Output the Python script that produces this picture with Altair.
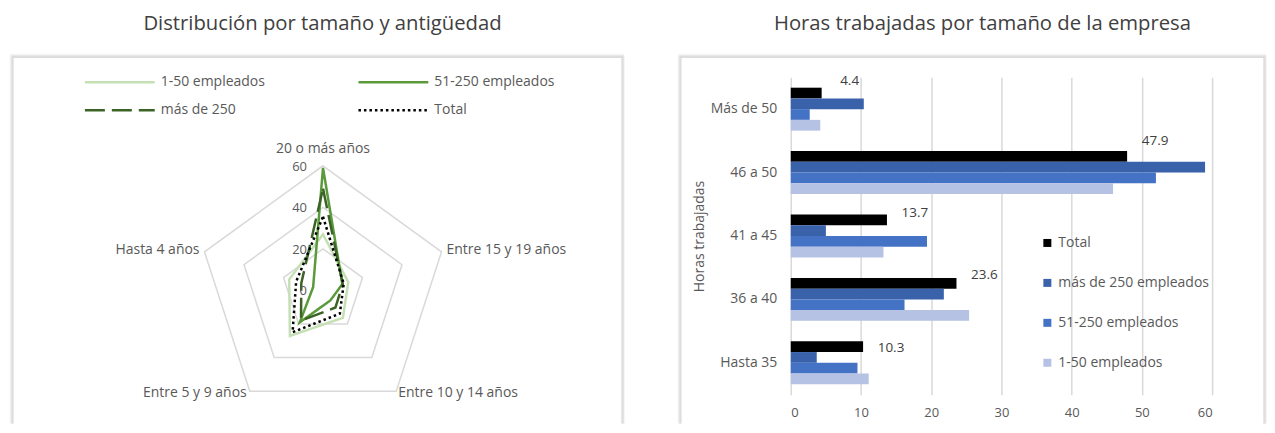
import altair as alt
import pandas as pd

# ---------------- data ----------------
antig_cats = ["20 o más años", "Entre 15 y 19 años", "Entre 10 y 14 años",
              "Entre 5 y 9 años", "Hasta 4 años"]
radar_series = ["1-50 empleados", "51-250 empleados", "más de 250", "Total"]
radar_1_50 = [27.0, 12.8, 16.3, 27.1, 17.1]
radar_51_250 = [59.0, 9.8, 6.0, 19.0, 5.0]
radar_mas_250 = [49.0, 10.0, 10.2, 18.0, 11.0]
radar_total = [35.5, 10.5, 13.8, 24.9, 13.6]
radar_ticks = [0, 20, 40, 60]

horas_cats = ["Más de 50", "46 a 50", "41 a 45", "36 a 40", "Hasta 35"]
bar_series = ["Total", "más de 250 empleados", "51-250 empleados", "1-50 empleados"]
bar_total = [4.4, 47.9, 13.7, 23.6, 10.3]
bar_mas_250 = [10.4, 59.0, 5.0, 21.8, 3.7]
bar_51_250 = [2.7, 52.0, 19.4, 16.2, 9.5]
bar_1_50 = [4.2, 45.9, 13.2, 25.4, 11.1]
bar_ticks = [0, 10, 20, 30, 40, 50, 60]

# ---------------- styles ----------------
FONT = "Open Sans"
TXT = "#595959"
radar_colors = ["#C5E0B4", "#5A9A3A", "#3B6326", "#000000"]
radar_dashes = [[1, 0], [1, 0], [20, 7], [2.5, 3]]
bar_colors = ["#000000", "#3A62AB", "#4472C4", "#B6C2E3"]

# legend is filled column by column: reorder so rows read as in the original
leg_order = [0, 2, 1, 3]
leg_domain = [radar_series[i] for i in leg_order]
leg_colors = [radar_colors[i] for i in leg_order]
leg_dashes = [radar_dashes[i] for i in leg_order]

# ---------------- frame helper (top + sides, soft shadow) ----------------
one = pd.DataFrame({"k": [0]})


def seg(xa, xb, ya, yb, color, op, w=1.0):
    return (alt.Chart(one).mark_rule(color=color, opacity=op, strokeWidth=w)
            .encode(x=alt.value(xa), x2=alt.value(xb), y=alt.value(ya), y2=alt.value(yb)))


def frame(x0, x1, y0, y1):
    layers = []
    for k, op in [(3, 0.04), (2, 0.08), (1, 0.15)]:
        layers.append(seg(x0 - k, x1 + min(k, 2), y0 - k, y0 - k, "#000000", op))
        layers.append(seg(x0 - k, x0 - k, y0 - k, y1, "#000000", op))
        if k <= 2:
            layers.append(seg(x1 + k, x1 + k, y0 - k, y1, "#000000", op))
    layers.append(seg(x0, x1, y0, y0, "#d0d0d0", 1))
    layers.append(seg(x0, x0, y0, y1, "#d0d0d0", 1))
    layers.append(seg(x1, x1, y0, y1, "#d0d0d0", 1))
    return layers


# ---------------- radar chart ----------------
PX = 2.08          # pixels per unit
L_W, L_H = 610, 347
CX, CY = 310.5, 213.5
xdom = [-CX / PX, (L_W - CX) / PX]
ydom = [-(L_H - CY) / PX, CY / PX]

rows = []
for s, vals in zip(radar_series, [radar_1_50, radar_51_250, radar_mas_250, radar_total]):
    for i, (c, v) in enumerate(zip(antig_cats, vals)):
        rows.append({"series": s, "cat": c, "idx": i, "value": v})
radar_df = pd.DataFrame(rows)
ring_df = pd.DataFrame([{"ring": r, "idx": i, "value": r}
                        for r in radar_ticks[1:] for i in range(len(antig_cats))])
tick_df = pd.DataFrame({"value": radar_ticks, "label": [str(t) for t in radar_ticks]})
cat_df = pd.DataFrame({"cat": antig_cats, "idx": list(range(len(antig_cats))),
                       "value": [radar_ticks[-1]] * len(antig_cats)})

polar = dict(px="datum.value*sin(datum.idx*2*PI/5)",
             py="datum.value*cos(datum.idx*2*PI/5)")


def xy():
    return dict(
        x=alt.X("px:Q", scale=alt.Scale(domain=xdom, nice=False, zero=False), axis=None),
        y=alt.Y("py:Q", scale=alt.Scale(domain=ydom, nice=False, zero=False), axis=None),
    )


rings = (alt.Chart(ring_df).transform_calculate(**polar)
         .mark_line(interpolate="linear-closed", color="#d9d9d9", strokeWidth=1.5)
         .encode(**xy(), detail="ring:N", order="idx:Q"))

# wide line symbol: custom path three times as long as the symbol size
radar_legend = alt.Legend(title=None, orient="none", legendX=94, legendY=-8,
                          columns=2, columnPadding=88, rowPadding=8,
                          symbolType="M-3,0H3", symbolSize=544, symbolStrokeWidth=2.5,
                          labelFont=FONT, labelFontSize=14, labelColor=TXT,
                          labelOffset=28, padding=0)

lines = (alt.Chart(radar_df).transform_calculate(**polar)
         .mark_line(interpolate="linear-closed", strokeWidth=2.5)
         .encode(**xy(),
                 color=alt.Color("series:N", sort=leg_domain,
                                 scale=alt.Scale(domain=leg_domain, range=leg_colors),
                                 legend=radar_legend),
                 strokeDash=alt.StrokeDash("series:N", sort=leg_domain,
                                           scale=alt.Scale(domain=leg_domain, range=leg_dashes),
                                           legend=radar_legend),
                 detail="series:N",
                 order="idx:Q"))

tick_text = (alt.Chart(tick_df).transform_calculate(px="0", py="datum.value")
             .mark_text(align="right", baseline="middle", dx=-16, dy=1, font=FONT,
                        fontSize=13, color=TXT)
             .encode(**xy(), text="label:N"))

cat_specs = [("center", 0, -17), ("left", 5, -2), ("left", 2, 2),
             ("right", -3, 2), ("right", -5, -2)]
cat_layers = []
for i, (al, ddx, ddy) in enumerate(cat_specs):
    cat_layers.append(
        alt.Chart(cat_df).transform_filter(f"datum.idx == {i}")
        .transform_calculate(**polar)
        .mark_text(align=al, baseline="middle", dx=ddx, dy=ddy, font=FONT,
                   fontSize=14, color=TXT)
        .encode(**xy(), text="cat:N"))

left = alt.layer(*frame(0, L_W, -20, L_H), rings, lines, tick_text, *cat_layers).properties(
    width=L_W, height=L_H,
    title=alt.Title("Distribución por tamaño y antigüedad", font=FONT, fontSize=20.3,
                    fontWeight="normal", color="#404040", offset=19, dx=5),
)

# ---------------- bar chart ----------------
B_W, B_H = 422, 318
brows = []
for s, vals in zip(bar_series, [bar_total, bar_mas_250, bar_51_250, bar_1_50]):
    for c, v in zip(horas_cats, vals):
        brows.append({"cat": c, "series": s, "value": v})
bar_df = pd.DataFrame(brows)

xenc = alt.X("value:Q", scale=alt.Scale(domain=[0, 60], nice=False),
             axis=alt.Axis(values=bar_ticks, title=None, grid=True, gridColor="#d9d9d9",
                           gridWidth=1.5, domain=False, ticks=False, labelPadding=12,
                           labelFont=FONT, labelFontSize=13, labelColor=TXT))
yenc = alt.Y("cat:N", sort=horas_cats,
             scale=alt.Scale(domain=horas_cats, paddingInner=0.323, paddingOuter=0.165),
             axis=alt.Axis(title="Horas trabajadas", domain=False, ticks=False,
                           labelPadding=14, labelFont=FONT, labelFontSize=14,
                           labelColor=TXT, titleFont=FONT, titleFontSize=14,
                           titleFontWeight="normal", titleColor=TXT, titlePadding=4))
yoff = alt.YOffset("series:N", sort=bar_series,
                   scale=alt.Scale(domain=bar_series, paddingInner=0, paddingOuter=0))

bars = alt.Chart(bar_df).mark_bar().encode(
    x=xenc, y=yenc, yOffset=yoff,
    color=alt.Color("series:N", sort=bar_series,
                    scale=alt.Scale(domain=bar_series, range=bar_colors),
                    legend=alt.Legend(title=None, orient="none", legendX=250, legendY=159,
                                      symbolType="square", symbolSize=64,
                                      symbolStrokeWidth=0, rowPadding=26,
                                      labelFont=FONT, labelFontSize=14,
                                      labelColor=TXT, labelOffset=4, padding=0)),
)

# value labels of the Total series (each placed like in the original)
label_offsets = [(28, -12), (28, -15), (28, -7), (28, -8), (28, 1)]
label_layers = []
for c, (ddx, ddy) in zip(horas_cats, label_offsets):
    label_layers.append(
        alt.Chart(bar_df)
        .transform_filter(f"datum.series == '{bar_series[0]}' && datum.cat == '{c}'")
        .mark_text(align="center", baseline="middle", dx=ddx, dy=ddy, font=FONT,
                   fontSize=13.5, color="#404040")
        .encode(x=alt.X("value:Q"), y=alt.Y("cat:N", sort=horas_cats),
                yOffset=alt.YOffset("series:N", sort=bar_series),
                text=alt.Text("value:Q", format=".1f")))

right = alt.layer(*frame(-110, 474, -20, L_H), bars, *label_layers).properties(
    width=B_W, height=B_H,
    title=alt.Title("Horas trabajadas por tamaño de la empresa", font=FONT, fontSize=20.3,
                    fontWeight="normal", color="#404040", offset=19, dx=-19),
)

chart = (alt.hconcat(left, right, spacing=52)
         .resolve_scale(color="independent", strokeDash="independent")
         .properties(padding={"left": 1, "top": 5, "right": 0, "bottom": 0})
         .configure_view(stroke="transparent"))

chart.save("out.html", embed_options={"renderer": "svg", "actions": False})
